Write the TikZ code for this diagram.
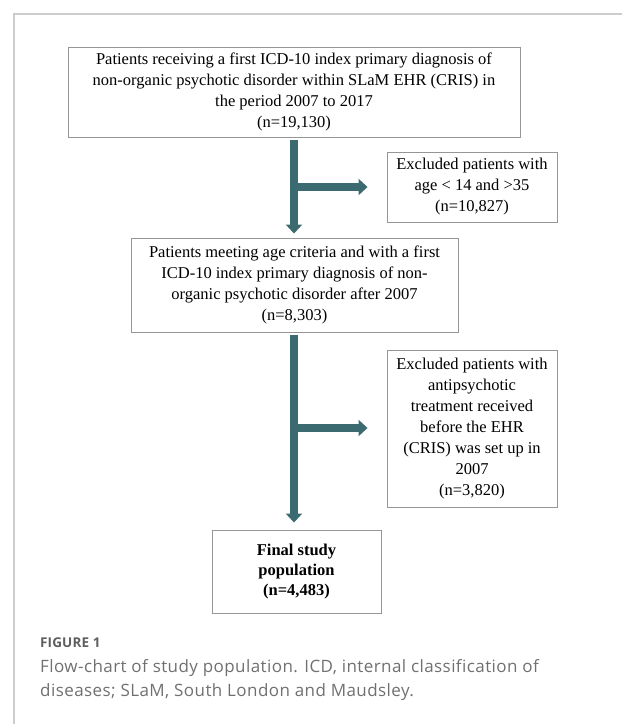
\documentclass[tikz,border=0pt]{standalone}
\usepackage{fontspec}
\setmainfont{Liberation Serif}
\newfontfamily\capfont[Ligatures=NoCommon,LetterSpace=2.5]{Open Sans}
\newfontfamily\figfont[LetterSpace=1]{Open Sans}
\usetikzlibrary{arrows.meta}
\definecolor{teal1}{RGB}{59,107,112}
\definecolor{boxgray}{RGB}{150,150,150}
\definecolor{framegray}{RGB}{205,205,205}
\definecolor{capgray}{RGB}{112,112,112}
\definecolor{figgray}{RGB}{95,95,95}
\begin{document}
\begin{tikzpicture}[x=1pt,y=-1pt,
  box/.style={draw=boxgray, line width=0.9pt, align=center, inner sep=0pt,
    font=\fontsize{16.5}{21}\selectfont},
  fat/.style={draw=teal1, line width=7.7pt, -{Triangle[width=16pt,length=9pt]}},
  captext/.style={anchor=west, inner sep=0pt, text=capgray, font=\capfont\fontsize{17}{24}\selectfont}]
\useasboundingbox (0,0) rectangle (622,724);
\draw[framegray, line width=1.5pt] (14,724) -- (14,14) -- (622,14);

\node[box, minimum width=452pt, minimum height=90pt] (b1) at (294,92)
  {Patients receiving a first ICD-10 index primary diagnosis of\\
   non-organic psychotic disorder within SLaM EHR (CRIS) in\\
   the period 2007 to 2017\\
   (n=19,130)};
\node[box, minimum width=170pt, minimum height=70pt] (e1) at (472,187)
  {Excluded patients with\\ age < 14 and >35\\ (n=10,827)};
\node[box, minimum width=327pt, minimum height=94pt] (b2) at (294.5,285)
  {Patients meeting age criteria and with a first\\
   ICD-10 index primary diagnosis of non-\\
   organic psychotic disorder after 2007\\
   (n=8,303)};
\node[box, minimum width=170pt, minimum height=157pt] (e2) at (472,428.5)
  {Excluded patients with\\ antipsychotic\\ treatment received\\ before the EHR\\
   (CRIS) was set up in\\ 2007\\ (n=3,820)};
\node[box, minimum width=169pt, minimum height=83pt, font=\fontsize{16.5}{20}\selectfont\bfseries] (b3) at (296.5,571.5)
  {Final study\\ population\\ (n=4,483)};

\coordinate (t1) at (294,137);
\coordinate (j1) at (294,187);
\coordinate (t2) at (294,332);
\coordinate (j2) at (294,428);
\draw[fat, shorten <=3pt, shorten >=4pt] (t1) -- (t1 |- b2.north);
\draw[fat, shorten >=19pt] (j1) -- (j1 -| e1.west);
\draw[fat, shorten <=3pt, shorten >=7pt] (t2) -- (t2 |- b3.north);
\draw[fat, shorten >=19pt] (j2) -- (j2 -| e2.west);

\node[captext, text=figgray, font=\figfont\fontsize{13.5}{15}\selectfont\bfseries] (fig) at (40,643) {FIGURE 1};
\node[captext] (c1) at (40,668) {Flow-chart of study population. ICD, internal classification of};
\node[captext] (c2) at (40,692) {diseases; SLaM, South London and Maudsley.};
\end{tikzpicture}
\end{document}
